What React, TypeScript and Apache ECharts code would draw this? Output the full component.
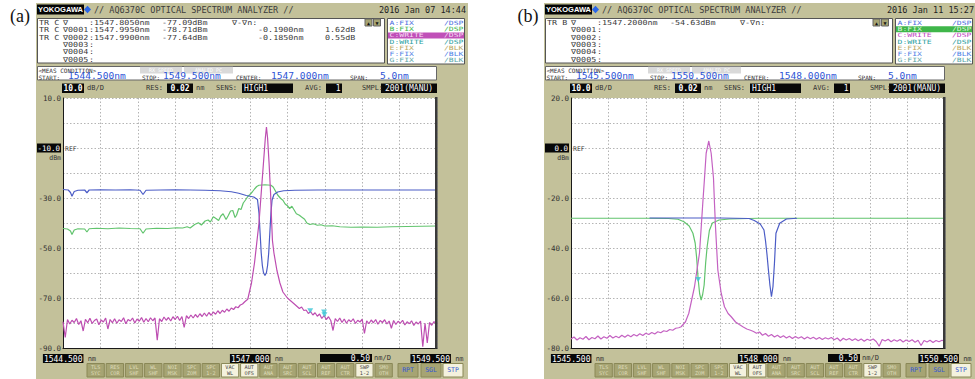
import React, { useEffect, useRef } from "react";
import * as echarts from "echarts";

// ---------------- data ----------------
const wavelengthRangeA = [1544.5, 1549.5];
const wavelengthRangeB = [1545.5, 1550.5];
const levelRangeA = [-90, 10];
const levelRangeB = [-80, 20];
const levelLabelsA = [10, -30, -50, -70, -90];
const levelLabelsB = [20, -20, -40, -60, -80];
const refLevelA = -10;
const refLevelB = 0;
const wlLabelsA = [1544.5, 1547.0, 1549.5];
const wlLabelsB = [1545.5, 1548.0, 1550.5];

// (a) trace B (green)
const greenA = [
  [1544.5, -42.2], [1544.56, -42.4], [1544.6, -43.2], [1544.62, -44.6], [1544.65, -42.8], [1544.7, -42.3],
  [1544.79, -42.4], [1544.82, -43.6], [1544.85, -42.3], [1544.95, -42.1], [1545.1, -42.3], [1545.25, -42.0],
  [1545.4, -42.2], [1545.53, -42.3], [1545.57, -44.1], [1545.61, -42.4], [1545.75, -42.1], [1545.9, -42.2],
  [1546.02, -41.9], [1546.1, -42.0], [1546.16, -41.5], [1546.2, -42.0], [1546.26, -40.6], [1546.31, -39.9],
  [1546.35, -40.8], [1546.4, -39.2], [1546.44, -38.8], [1546.47, -39.6], [1546.51, -37.5], [1546.55, -38.3],
  [1546.58, -39.0], [1546.61, -37.2], [1546.64, -36.3], [1546.68, -38.6], [1546.71, -37.0], [1546.74, -35.2],
  [1546.77, -35.0], [1546.8, -37.8], [1546.82, -36.9], [1546.85, -34.2], [1546.88, -34.6], [1546.91, -32.0],
  [1546.94, -30.8], [1546.97, -29.4], [1547.0, -28.6], [1547.03, -27.6], [1547.06, -26.4], [1547.09, -25.4],
  [1547.12, -24.9], [1547.2, -24.7], [1547.28, -24.9], [1547.31, -25.6], [1547.34, -27.2], [1547.37, -28.8],
  [1547.41, -30.2], [1547.44, -30.9], [1547.47, -32.4], [1547.5, -33.1], [1547.53, -34.2], [1547.56, -33.3],
  [1547.59, -34.8], [1547.62, -36.3], [1547.66, -36.9], [1547.69, -37.6], [1547.73, -38.5], [1547.76, -40.0],
  [1547.8, -40.6], [1547.85, -40.3], [1547.9, -40.9], [1547.95, -40.7], [1548.0, -41.2], [1548.1, -41.1],
  [1548.2, -41.5], [1548.35, -41.7], [1548.5, -41.6], [1548.7, -41.7], [1548.9, -41.5], [1549.1, -41.4],
  [1549.3, -41.3], [1549.5, -41.2],
];

// (a) trace A (blue)
const blueA = [
  [1544.5, -26.6], [1544.57, -26.8], [1544.6, -27.8], [1544.62, -29.3], [1544.65, -27.4], [1544.7, -26.9],
  [1544.79, -26.8], [1544.82, -27.9], [1544.85, -26.8], [1545.0, -26.7], [1545.2, -26.8], [1545.4, -26.7],
  [1545.53, -26.9], [1545.57, -28.6], [1545.61, -26.9], [1545.8, -26.8], [1546.0, -26.7], [1546.2, -26.8],
  [1546.4, -26.9], [1546.6, -27.1], [1546.75, -27.5], [1546.85, -28.1], [1546.95, -29.0], [1547.05, -29.6],
  [1547.1, -30.6], [1547.12, -36.0], [1547.135, -44.0], [1547.15, -52.0], [1547.165, -57.0], [1547.18, -59.8],
  [1547.2, -61.0], [1547.22, -59.8], [1547.235, -57.0], [1547.25, -52.0], [1547.265, -44.0], [1547.28, -36.0],
  [1547.295, -30.8], [1547.32, -28.6], [1547.37, -27.6], [1547.45, -27.1], [1547.6, -26.9], [1547.9, -26.8],
  [1548.3, -26.8], [1548.8, -26.8], [1549.5, -26.8],
];

// (a) trace C (magenta)
const pinkLeftA = [
  [1544.5, -79.5], [1544.53, -85.8], [1544.56, -78.6], [1544.59, -80.4], [1544.62, -78.9], [1544.65, -79.8],
  [1544.68, -78.2], [1544.71, -80.6], [1544.74, -79.1], [1544.77, -83.2], [1544.8, -78.5], [1544.83, -79.9],
  [1544.86, -78.1], [1544.89, -80.2], [1544.92, -79.0], [1544.95, -78.4], [1544.98, -80.7], [1545.01, -78.8],
  [1545.04, -79.6], [1545.07, -78.0], [1545.1, -82.4], [1545.13, -78.6], [1545.16, -79.9], [1545.19, -78.3],
  [1545.22, -80.1], [1545.25, -78.7], [1545.28, -79.4], [1545.31, -77.9], [1545.34, -80.3], [1545.37, -78.6],
  [1545.4, -79.2], [1545.43, -78.0], [1545.46, -80.0], [1545.49, -78.4], [1545.52, -79.3], [1545.55, -77.8],
  [1545.58, -79.7], [1545.61, -78.2], [1545.64, -79.5], [1545.67, -77.9], [1545.7, -79.1], [1545.73, -78.0],
  [1545.76, -86.9], [1545.79, -78.3], [1545.82, -79.4], [1545.85, -77.6], [1545.88, -78.9], [1545.91, -77.8],
  [1545.94, -79.2], [1545.97, -77.5], [1546.0, -78.6], [1546.03, -77.3], [1546.06, -79.0], [1546.09, -77.4],
  [1546.12, -81.8], [1546.15, -77.1], [1546.18, -78.2], [1546.21, -76.8], [1546.24, -78.0], [1546.27, -76.6],
  [1546.3, -77.7], [1546.33, -76.3], [1546.36, -77.4], [1546.39, -76.0], [1546.42, -77.3], [1546.45, -75.8],
  [1546.48, -76.9], [1546.51, -75.6], [1546.54, -76.5], [1546.57, -75.1], [1546.6, -76.2], [1546.63, -74.9],
  [1546.66, -75.7], [1546.69, -74.4], [1546.72, -75.3], [1546.75, -74.0], [1546.78, -74.6], [1546.81, -73.5],
  [1546.84, -73.9], [1546.87, -72.8], [1546.9, -72.4], [1546.93, -71.5],
];
const pinkPeakA = [
  [1546.97, -70.5], [1547.02, -64.0], [1547.06, -56.0], [1547.09, -48.0], [1547.12, -40.0], [1547.15, -28.0],
  [1547.18, -16.0], [1547.205, -6.0], [1547.22, -1.6], [1547.235, -6.0], [1547.255, -16.0], [1547.275, -28.0],
  [1547.29, -40.0], [1547.3, -47.0], [1547.32, -52.0], [1547.36, -59.0], [1547.4, -64.0], [1547.44, -67.6],
  [1547.5, -70.0], [1547.55, -71.3], [1547.6, -72.6],
];
const pinkRightA = [
  [1547.63, -73.4], [1547.66, -74.2], [1547.69, -73.6], [1547.72, -75.0], [1547.75, -74.8], [1547.78, -76.2],
  [1547.81, -75.4], [1547.84, -76.8], [1547.87, -75.9], [1547.9, -77.3], [1547.93, -76.4], [1547.96, -78.2],
  [1547.99, -77.0], [1548.02, -78.6], [1548.05, -77.5], [1548.08, -79.0], [1548.11, -83.0], [1548.14, -78.2],
  [1548.17, -79.4], [1548.2, -78.0], [1548.23, -79.8], [1548.26, -78.4], [1548.29, -80.1], [1548.32, -78.7],
  [1548.35, -79.5], [1548.38, -78.3], [1548.41, -80.2], [1548.44, -78.9], [1548.47, -79.6], [1548.5, -78.5],
  [1548.53, -84.2], [1548.56, -79.1], [1548.59, -80.3], [1548.62, -78.8], [1548.65, -79.9], [1548.68, -78.6],
  [1548.71, -80.5], [1548.74, -79.0], [1548.77, -79.8], [1548.8, -78.7], [1548.83, -80.4], [1548.86, -79.2],
  [1548.89, -82.1], [1548.92, -79.0], [1548.95, -80.6], [1548.98, -79.3], [1549.01, -80.1], [1549.04, -78.9],
  [1549.07, -80.8], [1549.1, -79.5], [1549.13, -80.3], [1549.16, -79.1], [1549.19, -81.0], [1549.22, -79.6],
  [1549.25, -80.4], [1549.28, -79.2], [1549.31, -89.5], [1549.34, -80.1], [1549.37, -88.0], [1549.4, -79.8],
  [1549.43, -80.9], [1549.46, -79.4], [1549.49, -80.6], [1549.5, -79.9],
];
const markersA = [[1547.805, -77.09], [1547.995, -78.71], [1547.99, -77.64]];

// (b) traces
const greenB = [
  [1545.5, -28.1], [1546.0, -28.1], [1546.5, -28.1], [1546.8, -28.2], [1546.93, -28.5], [1547.01, -29.5],
  [1547.08, -31.2], [1547.13, -34.1], [1547.16, -38.0], [1547.18, -44.0], [1547.2, -52.5], [1547.22, -58.3],
  [1547.24, -60.8], [1547.26, -58.6], [1547.28, -54.8], [1547.3, -46.0], [1547.32, -39.5], [1547.35, -33.0],
  [1547.39, -30.0], [1547.48, -28.8], [1547.62, -28.4], [1548.0, -28.1], [1549.0, -28.1], [1550.5, -28.1],
];
const blueB = [
  [1546.55, -28.0], [1547.0, -28.0], [1547.5, -28.0], [1547.88, -28.2], [1547.95, -29.0], [1548.03, -30.4],
  [1548.08, -32.8], [1548.1, -37.0], [1548.12, -42.5], [1548.14, -49.0], [1548.16, -55.0], [1548.18, -59.5],
  [1548.2, -55.5], [1548.22, -46.1], [1548.24, -34.1], [1548.29, -30.1], [1548.38, -28.4], [1548.52, -28.1],
];
const pinkLeftB = [
  [1545.5, -76.4], [1545.54, -75.6], [1545.58, -76.8], [1545.62, -75.9], [1545.66, -76.5], [1545.7, -75.4],
  [1545.74, -76.7], [1545.78, -75.8], [1545.82, -76.3], [1545.86, -75.2], [1545.9, -76.4], [1545.94, -75.5],
  [1545.98, -76.1], [1546.02, -75.0], [1546.06, -76.0], [1546.1, -75.3], [1546.14, -75.9], [1546.18, -74.9],
  [1546.22, -75.7], [1546.26, -74.8], [1546.3, -75.5], [1546.34, -74.6], [1546.38, -75.2], [1546.42, -74.3],
  [1546.46, -75.0], [1546.5, -74.1], [1546.54, -74.6], [1546.58, -73.8], [1546.62, -74.4], [1546.66, -73.5],
  [1546.7, -73.9], [1546.74, -73.1], [1546.78, -73.4], [1546.82, -72.6], [1546.86, -72.9], [1546.9, -72.1],
  [1546.94, -71.9],
];
const pinkPeakB = [
  [1546.973, -71.5], [1547.031, -69.5], [1547.075, -66.1], [1547.151, -55.5], [1547.218, -42.0], [1547.241, -31.6],
  [1547.262, -22.0], [1547.285, -12.0], [1547.307, -2.1], [1547.342, 2.8], [1547.374, -2.1], [1547.405, -12.0],
  [1547.418, -22.0], [1547.432, -31.6], [1547.463, -48.8], [1547.508, -58.1], [1547.552, -63.5], [1547.6, -66.2],
  [1547.642, -67.5], [1547.7, -69.6], [1547.75, -70.6], [1547.797, -71.5], [1547.85, -72.4], [1547.9, -72.9],
  [1547.94, -73.4], [1547.98, -74.1],
];
const pinkRightB = [
  [1548.02, -73.6], [1548.06, -74.9], [1548.1, -74.2], [1548.14, -75.3], [1548.18, -74.6], [1548.22, -75.6],
  [1548.26, -74.9], [1548.3, -75.8], [1548.34, -75.1], [1548.38, -76.0], [1548.42, -75.3], [1548.46, -76.2],
  [1548.5, -75.4], [1548.54, -76.1], [1548.58, -75.5], [1548.62, -76.4], [1548.66, -75.6], [1548.7, -76.3],
  [1548.74, -75.7], [1548.78, -76.5], [1548.82, -75.8], [1548.86, -76.6], [1548.9, -75.9], [1548.94, -76.4],
  [1548.98, -75.8], [1549.02, -76.7], [1549.06, -76.0], [1549.1, -77.2], [1549.14, -76.1], [1549.18, -76.8],
  [1549.22, -76.2], [1549.26, -77.0], [1549.3, -76.3], [1549.34, -77.1], [1549.38, -76.4], [1549.42, -77.3],
  [1549.46, -76.5], [1549.5, -77.0], [1549.54, -76.4], [1549.58, -77.4], [1549.62, -79.3], [1549.66, -76.6],
  [1549.7, -77.2], [1549.74, -76.5], [1549.78, -77.5], [1549.82, -76.7], [1549.86, -77.3], [1549.9, -76.6],
  [1549.94, -77.6], [1549.98, -76.8], [1550.02, -77.4], [1550.06, -76.7], [1550.1, -77.7], [1550.14, -76.9],
  [1550.18, -79.0], [1550.22, -77.0], [1550.26, -77.6], [1550.3, -76.9], [1550.34, -77.8], [1550.38, -77.0],
  [1550.42, -77.5], [1550.46, -76.9], [1550.5, -77.4],
];
const markersB = [[1547.2, -54.63]];

// texts
const titleText = "// AQ6370C OPTICAL SPECTRUM ANALYZER //";
const logoText = "YOKOGAWA";
const panelTags = ["(a)", "(b)"];
const dates = ["2016 Jan 07 14:44", "2016 Jan 11 15:27"];
const infoRowsA = [
  ["TR C", "∇", ":1547.8050nm", "-77.09dBm", "∇-∇n:", "", ""],
  ["TR C", "∇0001", ":1547.9950nm", "-78.71dBm", "", "-0.1900nm", "1.62dB"],
  ["TR C", "∇0002", ":1547.9900nm", "-77.64dBm", "", "-0.1850nm", "0.55dB"],
  ["", "∇0003", ":", "", "", "", ""],
  ["", "∇0004", ":", "", "", "", ""],
  ["", "∇0005", ":", "", "", "", ""],
];
const infoRowsB = [
  ["TR B", "∇", ":1547.2000nm", "-54.63dBm", "∇-∇n:", "", ""],
  ["", "∇0001", ":", "", "", "", ""],
  ["", "∇0002", ":", "", "", "", ""],
  ["", "∇0003", ":", "", "", "", ""],
  ["", "∇0004", ":", "", "", "", ""],
  ["", "∇0005", ":", "", "", "", ""],
];
const traceNames = ["A:FIX", "B:FIX", "C:WRITE", "D:WRITE", "E:FIX", "F:FIX", "G:FIX"];
const traceModes = ["/DSP", "/DSP", "/DSP", "/DSP", "/BLK", "/BLK", "/BLK"];
const measTitle = "<MEAS CONDITION>";
const ghostTags = ["RX SPEED", "ANALED PC"];
const measLabels = ["START:", "STOP:", "CENTER:", "SPAN:"];
const measA = ["1544.500nm", "1549.500nm", "1547.000nm", "5.0nm"];
const measB = ["1545.500nm", "1550.500nm", "1548.000nm", "5.0nm"];
const settingLabels = ["dB/D", "RES:", "nm", "SENS:", "AVG:", "SMPL:"];
const settingValues = ["10.0", "0.02", "HIGH1", "1", "2001(MANU)"];
const refTexts = ["REF", "dBm"];
const divValue = "0.50";
const divUnit = "nm/D";
const softKeys = [
  "TLS\nSYC", "RES\nCOR", "LVL\nSHF", "WL\nSHF", "NOI\nMSK", "SPC\nZOM", "SPC\n1-2", "VAC\nWL",
  "AUT\nOFS", "AUT\nANA", "AUT\nSRC", "AUT\nSCL", "AUT\nREF", "AUT\nCTR", "SWP\n1-2", "SMO\nOTH",
];
const runKeys = ["RPT", "SGL", "STP"];

// ---------------- styles / layout ----------------
const MONO = '"DejaVu Sans Mono", "Liberation Mono", monospace';
const KHAKI = "#c3c19a";
const BTN = "#a6a473";
const BTN_EDGE = "#8a8857";
const BTN_TXT = "#dedcba";
const LIGHT_BTN = "#f4f2de";
const BLUE_TXT = "#2f55d6";
const C_BLUE = "#4b5cc6";
const C_GREEN = "#62c46e";
const C_PINK_A = "#bd4db1";
const C_PINK_B = "#c462c2";
const C_MARK = "#38c6d6";
const legendColors = ["#4a6fe0", "#3cb44c", "#c044c0", "#2a9e9e", "#b9a75e", "#4f7fe6", "#5aa6a6"];

function rect(x: number, y: number, w: number, h: number, fill: string, stroke?: string, z = 3) {
  const style: any = { fill };
  if (stroke) {
    style.stroke = stroke;
    style.lineWidth = 1;
  }
  return { type: "rect", silent: true, z, shape: { x, y, width: w, height: h }, style };
}
function text(x: number, y: number, s: string, size: number, fill: string, align = "left", more: any = {}, sx = 1) {
  return {
    type: "text",
    silent: true,
    z: 6,
    x,
    y,
    scaleX: sx,
    style: { text: s, fontSize: size, fontFamily: MONO, fill, align, verticalAlign: "middle", ...more },
  };
}

function panelGraphics(dx: number, p: any) {
  const X = (v: number) => v + dx;
  const els: any[] = [];
  els.push(text(X(20), 16, p.tag, 18, "#111", "center", { fontFamily: '"Liberation Serif", "DejaVu Serif", serif' }));
  els.push(rect(X(36), 3, 432, 376, KHAKI, undefined, -10));
  // header
  els.push(rect(X(37), 4.5, 47, 10, "#050505"));
  els.push(text(X(60.5), 9.8, logoText, 7.5, "#fff", "center", { fontFamily: '"Liberation Sans", Arial, sans-serif', fontWeight: "bold" }));
  els.push({ type: "polygon", silent: true, z: 6, shape: { points: [[X(84), 9.5], [X(87.5), 5.8], [X(91), 9.5], [X(87.5), 13.2]] }, style: { fill: "#2a66e8" } });
  els.push(text(X(94), 10, titleText, 8.5, "#3c3c3c"));
  els.push(text(X(466), 10, p.date, 8.5, "#222", "right"));
  // info box
  els.push(rect(X(37.5), 18.5, 347, 44.5, "#fff", "#555"));
  const cols = [39, 63, 89, 162, 232, 258, 325];
  p.info.forEach((row: string[], i: number) => {
    const y = 22.8 + i * 7.3;
    row.forEach((s, j) => {
      if (s) els.push(text(X(cols[j]), y, s, 7, "#3a3a3a", "left", {}, 1.2));
    });
  });
  els.push(rect(X(365), 19, 7, 7, BTN, "#666"));
  els.push(text(X(368.5), 22.6, "▲", 5, "#111", "center"));
  els.push(rect(X(373.5), 19, 7, 7, BTN, "#666"));
  els.push(text(X(377), 22.6, "▼", 5, "#111", "center"));
  // legend box
  els.push(rect(X(387.5), 18.5, 77, 45.5, "#fff", "#555"));
  traceNames.forEach((nm, i) => {
    const y = 23.3 + i * 6.05;
    let col = legendColors[i];
    if (i === p.hi) {
      els.push(rect(X(388), y - 3, 76, 6, p.hiColor));
      col = p.hiText;
    }
    els.push(text(X(389.5), y, nm, 5.8, col, "left", {}, 1.4));
    els.push(text(X(463.5), y, traceModes[i], 5.8, col, "right", {}, 1.4));
  });
  // meas condition
  els.push(rect(X(37.5), 66.5, 399, 13.5, "#fff", "#666"));
  els.push(text(X(38.5), 70.2, measTitle, 6, "#333"));
  els.push(rect(X(140), 66.8, 42, 6.6, "#d9d9d9"));
  els.push(text(X(161), 70.1, ghostTags[0], 5, "#fff", "center"));
  els.push(rect(X(184), 66.8, 49, 6.6, "#d9d9d9"));
  els.push(text(X(208.5), 70.1, ghostTags[1], 5, "#fff", "center"));
  const lx = [38.5, 142, 236, 350];
  const vx = [68, 163, 271, 380];
  measLabels.forEach((l, i) => {
    els.push(text(X(lx[i]), 77.3, l, 6, "#333"));
    els.push(text(X(vx[i]), 76.6, p.meas[i], 8, BLUE_TXT, "left", {}, 1.2));
  });
  // settings row
  const sy = 88.4;
  els.push(rect(X(62), 83.5, 22, 9.5, "#080808"));
  els.push(text(X(73), sy, settingValues[0], 8, "#fff", "center", { fontWeight: "bold" }));
  els.push(text(X(87), sy, settingLabels[0], 7, "#333"));
  els.push(text(X(146), sy, settingLabels[1], 7, "#333"));
  els.push(rect(X(167), 83.5, 26, 9.5, "#080808"));
  els.push(text(X(180), sy, settingValues[1], 8, "#fff", "center", { fontWeight: "bold" }));
  els.push(text(X(196), sy, settingLabels[2], 7, "#333"));
  els.push(text(X(216), sy, settingLabels[3], 7, "#333"));
  els.push(rect(X(242), 83.5, 51, 9.5, "#080808"));
  els.push(text(X(244), sy, settingValues[2], 8, "#fff", "left"));
  els.push(text(X(305), sy, settingLabels[4], 7, "#333"));
  els.push(rect(X(326), 83.5, 16, 9.5, "#080808"));
  els.push(text(X(340.5), sy, settingValues[3], 8, "#fff", "right"));
  els.push(text(X(362), sy, settingLabels[5], 7, "#333"));
  els.push(rect(X(381), 83.5, 56, 9.5, "#080808"));
  els.push(text(X(409), sy, settingValues[4], 8, "#fff", "center"));
  // ref decorations
  els.push(text(X(65), 149, refTexts[0], 6.5, "#444"));
  els.push(text(X(61), 157.5, refTexts[1], 6.5, "#333", "right"));
  // right border of plot
  els.push(rect(X(435), 97, 2.5, 251.5, "#3a3a3a", undefined, 5));
  // div box
  els.push(rect(p.divX, 354, p.divW, 8, "#080808"));
  els.push(text(p.divX + p.divW - 2, 358.2, divValue, 8, "#fff", "right"));
  els.push(text(p.divX + p.divW + 2, 358.2, divUnit, 7, "#333"));
  // soft keys
  const light = [7, 8, 14];
  softKeys.forEach((k, i) => {
    const bx = X(87 + i * 19.2);
    const isL = light.includes(i);
    els.push(rect(bx, 363.5, 17.3, 13.5, isL ? LIGHT_BTN : BTN, BTN_EDGE));
    els.push(text(bx + 8.65, 370.4, k, 5.2, isL ? "#444" : BTN_TXT, "center", { lineHeight: 6 }));
  });
  const rx = [398, 421, 443];
  runKeys.forEach((k, i) => {
    els.push(rect(X(rx[i]), 363.5, 20, 13.5, i === 2 ? LIGHT_BTN : BTN, BTN_EDGE));
    els.push(text(X(rx[i] + 10), 370.4, k, 6.5, "#3458d4", "center"));
  });
  return els;
}

function yAxisFor(gi: number, range: number[], labels: number[], ref: number) {
  return {
    type: "value",
    gridIndex: gi,
    min: range[0],
    max: range[1],
    interval: 10,
    axisLine: { show: true, onZero: false, lineStyle: { color: "#1a1a1a", width: 1 } },
    axisTick: { show: false },
    splitLine: { show: true, lineStyle: { color: "#b4b4b4", type: [1.5, 2], width: 1 } },
    axisLabel: {
      show: true,
      margin: 2,
      fontSize: 7.5,
      color: "#333",
      fontFamily: MONO,
      formatter: (v: number) =>
        v === ref ? `{ref|${v.toFixed(1)}}` : labels.includes(v) ? v.toFixed(1) : "",
      rich: {
        ref: { backgroundColor: "#080808", color: "#fff", width: 22, align: "right", padding: [1, 1, 0, 1], fontSize: 7.5, fontFamily: MONO },
      },
    },
  };
}

function xAxisFor(gi: number, range: number[], labels: number[]) {
  return {
    type: "value",
    gridIndex: gi,
    min: range[0],
    max: range[1],
    interval: 0.5,
    axisLine: { show: true, onZero: false, lineStyle: { color: "#1a1a1a", width: 1 } },
    axisTick: { show: false },
    splitLine: { show: true, lineStyle: { color: "#b4b4b4", type: [1.5, 2], width: 1 } },
    axisLabel: {
      show: true,
      margin: 6,
      fontSize: 8,
      color: "#333",
      fontFamily: MONO,
      formatter: (v: number) => {
        const k = labels.findIndex((t) => Math.abs(t - v) < 1e-6);
        if (k < 0) return "";
        const s = `{b|${v.toFixed(3)}}{u| nm}`;
        return k === labels.length - 1 ? s : `{sp| }${s}`;
      },
      rich: {
        b: { backgroundColor: "#080808", color: "#fff", fontSize: 8, padding: [1, 1, 0, 1], fontFamily: MONO },
        u: { color: "#333", fontSize: 7, fontFamily: MONO },
        sp: { width: 13 },
      },
    },
  };
}

function lineSeries(idx: number, data: number[][], color: string, z: number) {
  return {
    type: "line",
    xAxisIndex: idx,
    yAxisIndex: idx,
    data,
    symbol: "none",
    silent: true,
    z,
    lineStyle: { color, width: 1.2 },
  };
}
function markerSeries(idx: number, data: number[][]) {
  return {
    type: "scatter",
    xAxisIndex: idx,
    yAxisIndex: idx,
    data,
    symbol: "triangle",
    symbolRotate: 180,
    symbolSize: [6, 5],
    symbolOffset: [0, -5],
    silent: true,
    z: 6,
    itemStyle: { color: C_MARK },
  };
}

export default function App() {
  const ref = useRef<HTMLDivElement>(null);
  useEffect(() => {
    if (!ref.current) return;
    const chart = echarts.init(ref.current, null, { renderer: "svg" });
    const gridBase = { top: 98, width: 374, height: 250, show: true, backgroundColor: "#fff", borderWidth: 0, containLabel: false, outerBoundsMode: "none" };
    const option: any = {
      animation: false,
      grid: [
        { ...gridBase, left: 63 },
        { ...gridBase, left: 571 },
      ],
      xAxis: [xAxisFor(0, wavelengthRangeA, wlLabelsA), xAxisFor(1, wavelengthRangeB, wlLabelsB)],
      yAxis: [yAxisFor(0, levelRangeA, levelLabelsA, refLevelA), yAxisFor(1, levelRangeB, levelLabelsB, refLevelB)],
      series: [
        lineSeries(0, greenA, C_GREEN, 2),
        lineSeries(0, blueA, C_BLUE, 3),
        lineSeries(0, [...pinkLeftA, ...pinkPeakA, ...pinkRightA], C_PINK_A, 4),
        markerSeries(0, markersA),
        lineSeries(1, greenB, C_GREEN, 2),
        lineSeries(1, blueB, C_BLUE, 3),
        lineSeries(1, [...pinkLeftB, ...pinkPeakB, ...pinkRightB], C_PINK_B, 4),
        markerSeries(1, markersB),
      ],
      graphic: {
        elements: [
          ...panelGraphics(0, { tag: panelTags[0], date: dates[0], info: infoRowsA, hi: 2, hiColor: "#c050b8", hiText: "#f4dcf2", meas: measA, divX: 320, divW: 52 }),
          ...panelGraphics(508, { tag: panelTags[1], date: dates[1], info: infoRowsB, hi: 1, hiColor: "#3fb64a", hiText: "#dcf6dc", meas: measB, divX: 828, divW: 32 }),
        ],
      },
    };
    chart.setOption(option);
    return () => chart.dispose();
  }, []);
  return <div ref={ref} style={{ position: "absolute", left: 0, top: 0, width: 975, height: 379, background: "#fff" }} />;
}
